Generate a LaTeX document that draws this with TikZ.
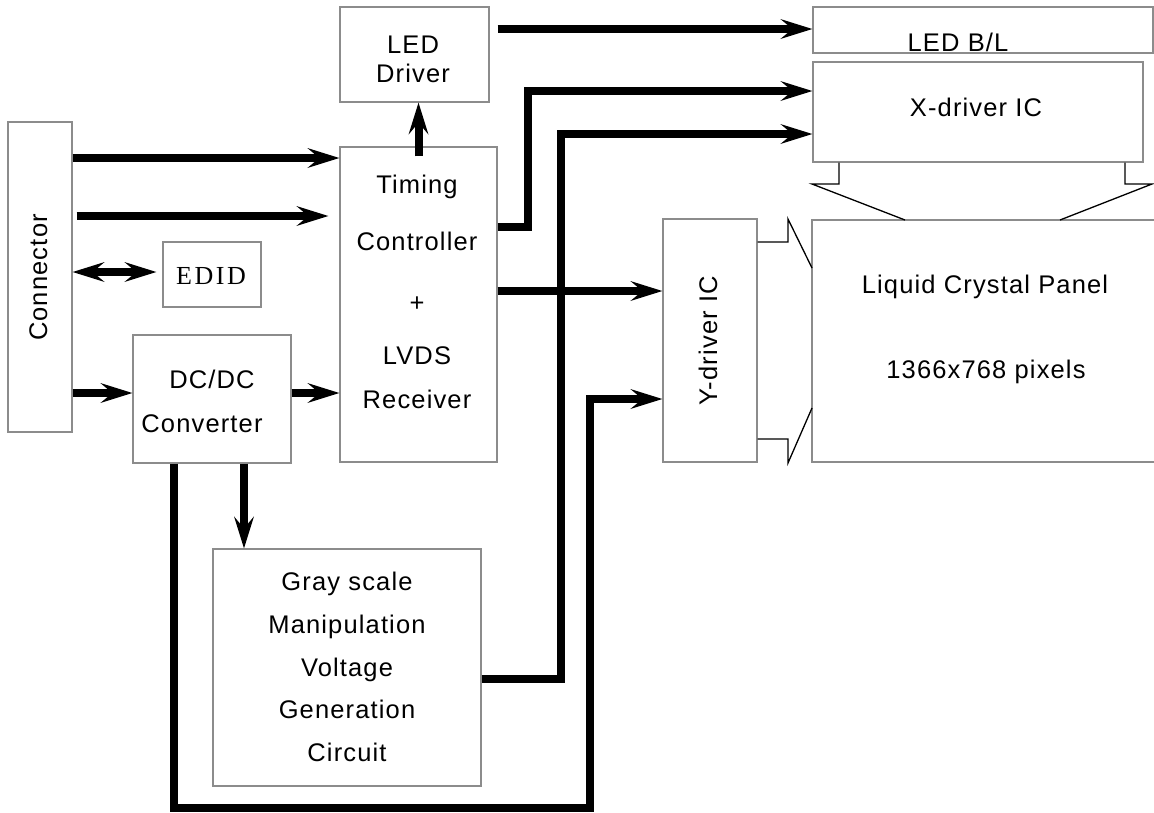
\documentclass[tikz,border=0pt]{standalone}
\usepackage{fontspec}
\setmainfont{Liberation Sans}[LetterSpace=4.5]
\newfontfamily\edidfont{Liberation Serif}[LetterSpace=10]
\usetikzlibrary{arrows.meta}
\definecolor{boxgray}{HTML}{8C8C8C}
\begin{document}
\begin{tikzpicture}[x=1pt,y=-1pt,
  box/.style={draw=boxgray, line width=1.3pt, inner sep=0pt},
  lbl/.style={anchor=base, inner sep=0pt, font=\fontsize{25.5}{30}\selectfont},
  bus/.style={line width=8pt, line join=miter, -{Stealth[length=32pt,width=20pt,inset=12pt,line width=0pt]}},
  bibus/.style={line width=8pt, {Stealth[length=32pt,width=20pt,inset=12pt,line width=0pt]}-{Stealth[length=32pt,width=20pt,inset=12pt,line width=0pt]}},
  thinline/.style={line width=1.3pt, line join=miter}]
\useasboundingbox (0,0) rectangle (1154,812);

% boxes
\node[box, minimum width=64, minimum height=310] (conn) at (40,277) {};
\node[box, minimum width=98, minimum height=65] (edid) at (212,274.5) {};
\node[box, minimum width=158, minimum height=128] (dcdc) at (212,399) {};
\node[box, minimum width=157, minimum height=315] (tc) at (418.5,304.5) {};
\node[box, minimum width=149, minimum height=95] (led) at (414.5,54.5) {};
\node[box, minimum width=340, minimum height=46] (bl) at (983,30) {};
\node[box, minimum width=330, minimum height=100] (xd) at (978,112) {};
\node[box, minimum width=94, minimum height=243] (yd) at (710,340.5) {};
\node[box, minimum width=358, minimum height=242] (lcp) at (991,341) {};
\node[box, minimum width=268, minimum height=237] (gray) at (347,667.5) {};

% texts
\node[lbl, rotate=90] (connT) at (47,277.5) {Connector};
\node[lbl, font=\fontsize{26}{30}\edidfont] (edidT) at (211,284) {EDID};
\node[lbl] (dc1) at (212,388) {DC/DC};
\node[lbl] (dc2) at (202,432) {Converter};
\node[lbl] (tc1) at (417,193) {Timing};
\node[lbl] (tc2) at (417,250) {Controller};
\node[lbl] (tc3) at (417,311) {+};
\node[lbl] (tc4) at (417,364) {LVDS};
\node[lbl] (tc5) at (417,408) {Receiver};
\node[lbl] (led1) at (413,53) {LED};
\node[lbl] (led2) at (413,82) {Driver};
\node[lbl] (blT) at (958,51) {LED B/L};
\node[lbl] (xdT) at (976,116) {X-driver IC};
\node[lbl, rotate=90] (ydT) at (717,341) {Y-driver IC};
\node[lbl] (lcp1) at (985,293) {Liquid Crystal Panel};
\node[lbl] (lcp2) at (986,378) {1366x768 pixels};
\node[lbl] (g1) at (347,590) {Gray scale};
\node[lbl] (g2) at (347,633) {Manipulation};
\node[lbl] (g3) at (347,676) {Voltage};
\node[lbl] (g4) at (347,718) {Generation};
\node[lbl] (g5) at (347,761) {Circuit};

% thick connectors
\draw[bus] (conn.east |- 0,158) -- (tc.west |- 0,158);
\draw[bus] ([xshift=4pt]conn.east |- 0,216) -- ([xshift=-11pt]tc.west |- 0,216);
\draw[bibus] (conn.east |- 0,272) -- ([xshift=-6pt]edid.west |- 0,272);
\draw[bus] (conn.east |- 0,393) -- (dcdc.west |- 0,393);
\draw[bus] (dcdc.east |- 0,393) -- (tc.west |- 0,393);
\draw[bus] ([yshift=-10pt]tc.north) -- (led.south -| tc.north);
\draw[bus] ([xshift=8pt]led.east |- 0,29) -- (bl.west |- 0,29);
\draw[bus] (tc.east |- 0,227) -- (528,227) -- (528,91) -- (xd.west |- 0,91);
\draw[bus] (gray.east |- 0,679) -- (561,679) -- (561,134) -- (xd.west |- 0,134);
\draw[bus] (tc.east |- 0,291) -- (yd.west |- 0,291);
\draw[bus] (dcdc.south -| 174,0) -- (174,808) -- (590,808) -- (590,399) -- (yd.west |- 0,399);
\draw[bus] (dcdc.south -| 244,0) -- (gray.north -| 244,0);

% thin outline arrows into the panel
\draw[thinline] (xd.south -| 839,0) -- (839,184) -- (812,184) -- (905,220);
\draw[thinline] (xd.south -| 1125,0) -- (1125,184) -- (1152,184) -- (1060,220);
\draw[thinline] (yd.east |- 0,242) -- (788,242) -- (788,219) -- (812,268);
\draw[thinline] (yd.east |- 0,439) -- (788,439) -- (788,463) -- (812,408);
\end{tikzpicture}
\end{document}
